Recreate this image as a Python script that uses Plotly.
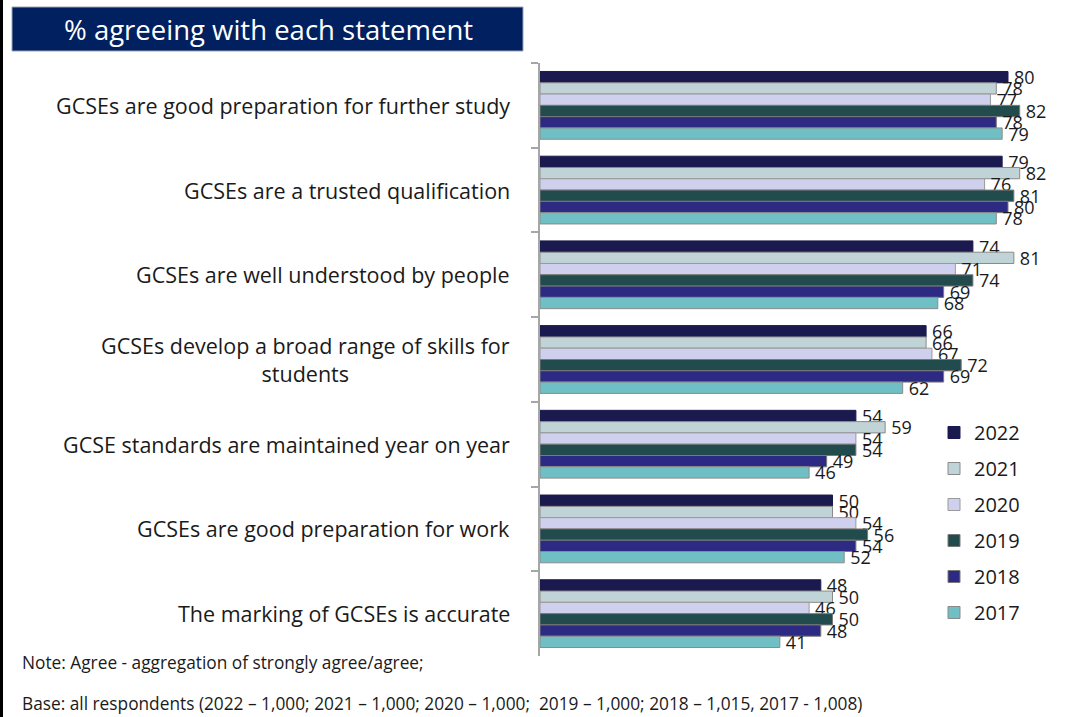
import plotly.graph_objects as go

W, H = 1088, 717

statements = [
    "GCSEs are good preparation for further study",
    "GCSEs are a trusted qualification",
    "GCSEs are well understood by people",
    "GCSEs develop a broad range of skills for<br>students",
    "GCSE standards are maintained year on year",
    "GCSEs are good preparation for work",
    "The marking of GCSEs is accurate",
]

years = ["2022", "2021", "2020", "2019", "2018", "2017"]

agree_2022 = [80, 79, 74, 66, 54, 50, 48]
agree_2021 = [78, 82, 81, 66, 59, 50, 50]
agree_2020 = [77, 76, 71, 67, 54, 54, 46]
agree_2019 = [82, 81, 74, 72, 54, 56, 50]
agree_2018 = [78, 80, 69, 69, 49, 54, 48]
agree_2017 = [79, 78, 68, 62, 46, 52, 41]

series = [agree_2022, agree_2021, agree_2020, agree_2019, agree_2018, agree_2017]
colors = ["#1b1a4f", "#c0d3d6", "#cfd0ee", "#214b4d", "#2d2a84", "#70bfc4"]
outlines = ["#1b1a4f", "#8a8a8a", "#9a9a9a", "#7a7a7a", "#7a7a7a", "#8a8a8a"]

FONT = "Open Sans, Noto Sans, sans-serif"

fig = go.Figure()
for yr, vals, col, ol in zip(years, series, colors, outlines):
    fig.add_trace(go.Bar(
        name=yr,
        y=statements,
        x=vals,
        orientation="h",
        marker=dict(color=col, line=dict(color=ol, width=1)),
        texttemplate="\u2009%{x}",
        textposition="outside",
        textfont=dict(size=18, color="#1a1a1a", family=FONT),
        constraintext="none",
        cliponaxis=False,
        legendgroup=yr,
    ))

# plot area in pixels
x0_px, px_per_unit = 540, 5.85
x_max = 90
x1_px = x0_px + x_max * px_per_unit
y_top_px, y_bot_px = 63, 656

fig.update_layout(
    width=W, height=H,
    margin=dict(l=0, r=0, t=0, b=0),
    paper_bgcolor="white", plot_bgcolor="white",
    barmode="group", bargap=0.2, bargroupgap=0,
    font=dict(family=FONT, color="#1a1a1a"),
    showlegend=True,
    legend=dict(
        x=934 / W, y=1 - 413 / H, xanchor="left", yanchor="top",
        font=dict(size=20, family=FONT, color="#1a1a1a"),
        traceorder="grouped", tracegroupgap=7,
        itemwidth=30, bgcolor="rgba(0,0,0,0)",
    ),
    xaxis=dict(
        domain=[x0_px / W, x1_px / W], range=[0, x_max],
        visible=False, fixedrange=True,
    ),
    yaxis=dict(
        domain=[1 - y_bot_px / H, 1 - y_top_px / H],
        autorange="reversed",
        showticklabels=False,
        showline=True, linecolor="#a6a6a6", linewidth=2,
        ticks="outside", tickson="boundaries", ticklen=7,
        tickcolor="#a6a6a6", tickwidth=2,
        showgrid=False,
    ),
)

# statement labels, right-aligned against the axis
for s in statements:
    fig.add_annotation(
        x=512 / W, xref="paper", y=s, yref="y",
        text=s, showarrow=False, xanchor="right", yanchor="middle",
        align="center", font=dict(size=21.5, family=FONT, color="#1a1a1a"),
    )

# title banner
fig.add_shape(type="rect", xref="paper", yref="paper",
              x0=12 / W, x1=523 / W, y0=1 - 51 / H, y1=1 - 7 / H,
              fillcolor="#002060", line=dict(color="#9aa3b5", width=1))
fig.add_annotation(x=268 / W, y=1 - 29 / H, xref="paper", yref="paper",
                   text="% agreeing with each statement", showarrow=False,
                   xanchor="center", yanchor="middle",
                   font=dict(size=27.5, family=FONT, color="white"))

# left edge rule
fig.add_shape(type="line", xref="paper", yref="paper",
              x0=1.5 / W, x1=1.5 / W, y0=0, y1=1,
              line=dict(color="black", width=3))

# footnotes
fig.add_annotation(x=20 / W, y=1 - 662 / H, xref="paper", yref="paper",
                   text="Note: Agree - aggregation of strongly agree/agree;",
                   showarrow=False, xanchor="left", yanchor="middle",
                   font=dict(size=17.3, family=FONT, color="#1a1a1a"))
fig.add_annotation(x=20 / W, y=1 - 703 / H, xref="paper", yref="paper",
                   text="Base: all respondents (2022 \u2013 1,000; 2021 \u2013 1,000; 2020 \u2013 1,000;  2019 \u2013 1,000; 2018 \u2013 1,015, 2017 - 1,008)",
                   showarrow=False, xanchor="left", yanchor="middle",
                   font=dict(size=17.3, family=FONT, color="#1a1a1a"))

fig.write_html("out.html")
